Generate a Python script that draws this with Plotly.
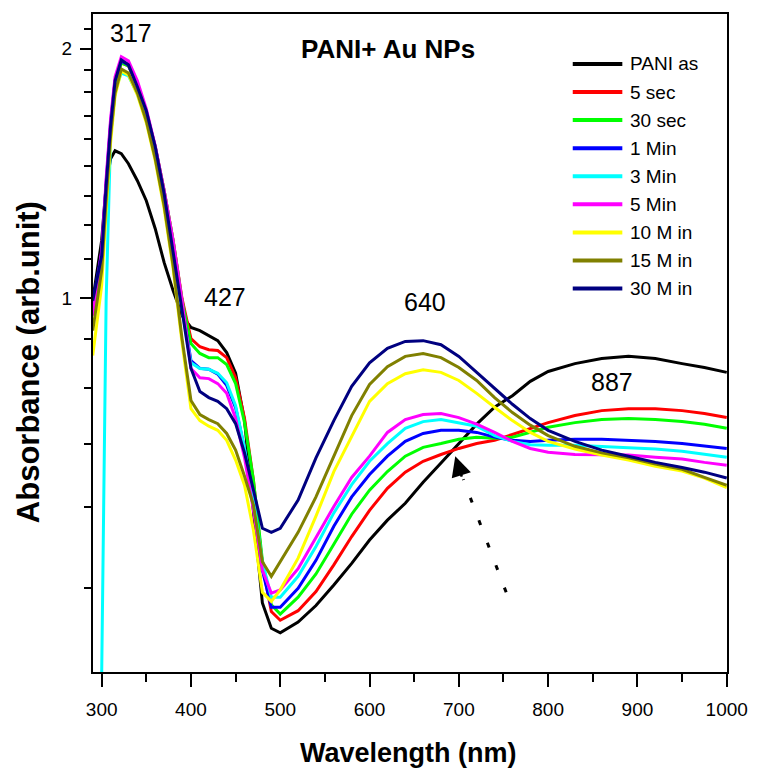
import math
import plotly.graph_objects as go

# ---------------- data ----------------
wavelength = [290, 300, 305, 310, 315, 322, 330, 340, 350, 360, 370, 380, 390, 400,
              410, 420, 430, 440, 450, 460, 470, 480, 490, 500, 520, 540, 560, 580,
              600, 620, 640, 660, 680, 700, 720, 740, 760, 780, 800, 830, 860, 890,
              920, 950, 975, 1000]

pani_as = [0.994, 1.174, 1.367, 1.473, 1.506, 1.494, 1.453, 1.386, 1.311, 1.213, 1.104, 1.022, 0.953, 0.922,
           0.914, 0.902, 0.889, 0.860, 0.812, 0.712, 0.555, 0.429, 0.400, 0.395, 0.407, 0.426, 0.451, 0.479,
           0.511, 0.540, 0.566, 0.600, 0.633, 0.669, 0.705, 0.739, 0.763, 0.794, 0.816, 0.834, 0.846, 0.851,
           0.846, 0.834, 0.825, 0.814]
sec_5 = [0.980, 1.122, 1.355, 1.610, 1.819, 1.922, 1.906, 1.809, 1.678, 1.523, 1.348, 1.174, 0.999, 0.894,
         0.874, 0.867, 0.865, 0.848, 0.802, 0.716, 0.603, 0.477, 0.419, 0.409, 0.420, 0.443, 0.477, 0.516,
         0.555, 0.590, 0.617, 0.636, 0.648, 0.659, 0.668, 0.674, 0.685, 0.697, 0.708, 0.722, 0.732, 0.736,
         0.736, 0.732, 0.726, 0.718]
sec_30 = [0.971, 1.116, 1.348, 1.601, 1.809, 1.922, 1.906, 1.809, 1.678, 1.523, 1.348, 1.174, 0.994, 0.882,
          0.858, 0.848, 0.848, 0.832, 0.789, 0.708, 0.603, 0.483, 0.427, 0.416, 0.436, 0.465, 0.505, 0.549,
          0.587, 0.618, 0.645, 0.661, 0.668, 0.676, 0.680, 0.678, 0.680, 0.689, 0.699, 0.708, 0.714, 0.716,
          0.714, 0.710, 0.705, 0.697]
min_1 = [0.988, 1.135, 1.378, 1.628, 1.834, 1.933, 1.912, 1.809, 1.674, 1.514, 1.333, 1.154, 0.980, 0.841,
         0.823, 0.821, 0.810, 0.785, 0.738, 0.659, 0.568, 0.470, 0.424, 0.424, 0.447, 0.483, 0.531, 0.576,
         0.613, 0.645, 0.672, 0.687, 0.693, 0.693, 0.689, 0.680, 0.674, 0.672, 0.674, 0.676, 0.676, 0.674,
         0.672, 0.668, 0.663, 0.659]
min_3 = [None, 0.350, 0.994, 1.570, 1.779, 1.869, 1.854, 1.764, 1.637, 1.485, 1.311, 1.126, 0.966, 0.836,
         0.823, 0.821, 0.812, 0.791, 0.742, 0.659, 0.571, 0.481, 0.436, 0.436, 0.462, 0.502, 0.551, 0.596,
         0.636, 0.668, 0.697, 0.710, 0.714, 0.708, 0.701, 0.683, 0.672, 0.666, 0.665, 0.665, 0.663, 0.661,
         0.658, 0.654, 0.648, 0.643]
min_5 = [0.953, 1.141, 1.394, 1.646, 1.850, 1.955, 1.933, 1.829, 1.692, 1.527, 1.348, 1.174, 0.994, 0.823,
         0.802, 0.800, 0.789, 0.768, 0.716, 0.642, 0.555, 0.470, 0.441, 0.445, 0.472, 0.514, 0.561, 0.608,
         0.645, 0.689, 0.714, 0.724, 0.726, 0.718, 0.705, 0.689, 0.672, 0.659, 0.652, 0.648, 0.648, 0.647,
         0.643, 0.640, 0.634, 0.629]
min_10 = [0.853, 1.036, 1.275, 1.540, 1.754, 1.880, 1.859, 1.759, 1.628, 1.465, 1.282, 1.086, 0.884, 0.736,
          0.712, 0.701, 0.693, 0.674, 0.638, 0.595, 0.525, 0.442, 0.431, 0.445, 0.486, 0.546, 0.618, 0.681,
          0.751, 0.789, 0.811, 0.820, 0.814, 0.796, 0.768, 0.739, 0.712, 0.689, 0.672, 0.658, 0.647, 0.638,
          0.627, 0.619, 0.607, 0.591]
min_15 = [0.914, 1.080, 1.311, 1.570, 1.769, 1.890, 1.869, 1.769, 1.637, 1.473, 1.293, 1.095, 0.894, 0.753,
          0.724, 0.714, 0.706, 0.687, 0.656, 0.610, 0.563, 0.481, 0.462, 0.481, 0.522, 0.576, 0.645, 0.722,
          0.787, 0.827, 0.851, 0.858, 0.848, 0.825, 0.796, 0.759, 0.728, 0.703, 0.683, 0.663, 0.651, 0.642,
          0.631, 0.622, 0.608, 0.595]
min_30 = [0.993, 1.125, 1.367, 1.614, 1.829, 1.938, 1.912, 1.799, 1.683, 1.523, 1.337, 1.141, 0.966, 0.823,
          0.772, 0.759, 0.751, 0.736, 0.706, 0.651, 0.587, 0.528, 0.522, 0.528, 0.571, 0.642, 0.712, 0.783,
          0.836, 0.870, 0.887, 0.889, 0.879, 0.851, 0.814, 0.778, 0.745, 0.716, 0.693, 0.672, 0.656, 0.645,
          0.634, 0.625, 0.617, 0.607]

series_names = ["PANI as", "5 sec", "30 sec", "1 Min", "3 Min", "5 Min", "10 M in", "15 M in", "30 M in"]
series_values = [pani_as, sec_5, sec_30, min_1, min_3, min_5, min_10, min_15, min_30]
series_colors = ["#000000", "#FF0000", "#00FF00", "#0000FF", "#00FFFF", "#FF00FF",
                 "#FFFF00", "#808000", "#000080"]

peak_labels = ["317", "427", "640", "887"]
y_tick_values = [1, 2]
y_minor_ticks = [2.112, 1.886, 1.775, 1.660, 1.557, 1.442, 1.329, 1.227, 1.116,
                 0.894, 0.779, 0.668, 0.560, 0.447]

# dotted arrow (wavelength, absorbance)
arrow_tail = (753, 0.442)
arrow_base = (705, 0.605)
arrow_tip = (696, 0.645)

FONT = "Liberation Sans, Arial, sans-serif"

fig = go.Figure()
for name, vals, col in zip(series_names, series_values, series_colors):
    fig.add_trace(go.Scatter(x=wavelength, y=vals, mode="lines", name=name,
                             line=dict(color=col, width=3), showlegend=False))

fig.add_trace(go.Scatter(x=[arrow_tail[0], arrow_base[0]], y=[arrow_tail[1], arrow_base[1]],
                         mode="lines", line=dict(color="black", width=3, dash="5px,19px"),
                         showlegend=False, hoverinfo="skip"))

annotations = []
# arrow head
annotations.append(dict(x=arrow_tip[0], y=math.log10(arrow_tip[1]), xref="x", yref="y",
                        ax=7, ay=22, axref="pixel", ayref="pixel", showarrow=True, arrowhead=2,
                        arrowsize=1.6, arrowwidth=2.5, arrowcolor="black", text=""))

# peak labels (paper coords)
peak_pos = [(0.0599, 0.9716), (0.2084, 0.5693), (0.5242, 0.5617), (0.8182, 0.4403)]
for lab, (px, py) in zip(peak_labels, peak_pos):
    annotations.append(dict(x=px, y=py, xref="paper", yref="paper", text=lab, showarrow=False,
                            font=dict(family=FONT, size=25, color="black"),
                            xanchor="center", yanchor="middle"))

annotations.append(dict(x=0.4648, y=0.9473, xref="paper", yref="paper", text="<b>PANI+ Au NPs</b>",
                        showarrow=False, font=dict(family=FONT, size=26, color="black"),
                        xanchor="center", yanchor="middle"))

# axis titles
annotations.append(dict(x=-0.102, y=0.4714, xref="paper", yref="paper",
                        text="<b>Absorbance (arb.unit)</b>", textangle=-90, showarrow=False,
                        font=dict(family=FONT, size=31, color="black"),
                        xanchor="center", yanchor="middle"))
annotations.append(dict(x=0.4977, y=-0.123, xref="paper", yref="paper",
                        text="<b>Wavelength (nm)</b>", showarrow=False,
                        font=dict(family=FONT, size=27, color="black"),
                        xanchor="center", yanchor="middle"))

# manual legend
shapes = []
leg_top = 0.9241
leg_step = 0.04268
for i, (name, col) in enumerate(zip(series_names, series_colors)):
    yy = leg_top - i * leg_step
    shapes.append(dict(type="line", xref="paper", yref="paper", x0=0.7567, x1=0.8349,
                       y0=yy, y1=yy, line=dict(color=col, width=4)))
    annotations.append(dict(x=0.8443, y=yy, xref="paper", yref="paper", text=name,
                            showarrow=False, xanchor="left", yanchor="middle",
                            font=dict(family=FONT, size=19, color="black")))

fig.update_layout(
    width=760, height=769,
    margin=dict(l=93, r=28, t=13, b=97),
    paper_bgcolor="white", plot_bgcolor="white",
    font=dict(family=FONT, color="black"),
    showlegend=False,
    annotations=annotations,
    shapes=shapes,
)
fig.update_xaxes(range=[290.3, 1000.3], tickmode="linear", tick0=300, dtick=100,
                 ticks="outside", ticklen=13, tickwidth=2, tickcolor="black",
                 showline=True, linewidth=2, linecolor="black", mirror=True,
                 showgrid=False, zeroline=False, ticklabelstandoff=6,
                 tickfont=dict(family=FONT, size=19, color="black"),
                 minor=dict(dtick=50, ticklen=8, tickwidth=2, tickcolor="black", ticks="outside"))
fig.update_yaxes(type="log", range=[-0.4507, 0.3428], tickmode="array",
                 tickvals=y_tick_values, ticktext=[str(v) for v in y_tick_values],
                 ticks="outside", ticklen=11, tickwidth=2, tickcolor="black",
                 showline=True, linewidth=2, linecolor="black", mirror=True,
                 showgrid=False, zeroline=False, ticklabelstandoff=4,
                 tickfont=dict(family=FONT, size=19, color="black"),
                 minor=dict(tickmode="array", tickvals=y_minor_ticks, ticklen=7, tickwidth=2,
                            tickcolor="black", ticks="outside"))

fig.write_html("out.html")
